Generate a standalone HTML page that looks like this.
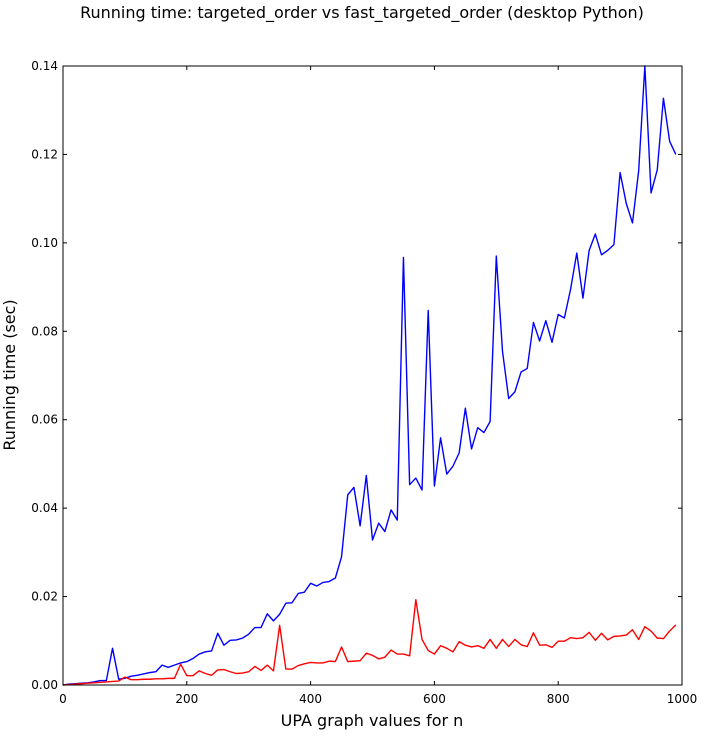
<!DOCTYPE html>
<html><head><meta charset="utf-8"><style>
body{margin:0;background:#fff;font-family:"Liberation Sans","DejaVu Sans",sans-serif}
svg text{font-family:"DejaVu Sans","Liberation Sans",sans-serif}
</style></head><body>
<svg id="chart" width="704" height="736" xmlns="http://www.w3.org/2000/svg">
<text x="362" y="18" text-anchor="middle" font-size="16">Running time: targeted_order vs fast_targeted_order (desktop Python)</text>
<text x="372" y="726" text-anchor="middle" font-size="16">UPA graph values for n</text>
<text transform="translate(15,375) rotate(-90)" text-anchor="middle" font-size="16">Running time (sec)</text>
<g id="plot"></g>
<rect x="63" y="66" width="619" height="619" fill="none" stroke="#000" stroke-width="1"/>
</svg>
<script>
const nValues=[];for(let i=0;i<100;i++)nValues.push(i*10);
const slowTimes=[0,0.0002,0.0003,0.0004,0.0005,0.0007,0.001,0.001,0.0083,0.0013,0.0015,0.002,0.0022,0.0025,0.0028,0.003,0.0045,0.004,0.0045,0.005,0.0053,0.006,0.007,0.0075,0.0077,0.0117,0.009,0.0101,0.0102,0.0106,0.0115,0.013,0.013,0.0161,0.0145,0.016,0.0185,0.0186,0.0207,0.021,0.023,0.0224,0.0232,0.0234,0.0242,0.029,0.043,0.0447,0.036,0.0474,0.0328,0.0366,0.0347,0.0396,0.0373,0.0967,0.0453,0.0468,0.0441,0.0847,0.045,0.0559,0.0477,0.0495,0.0525,0.0626,0.0534,0.0582,0.0571,0.0596,0.097,0.0755,0.0648,0.0663,0.0708,0.0716,0.082,0.0778,0.0824,0.0775,0.0838,0.083,0.0895,0.0977,0.0875,0.0983,0.102,0.0973,0.0983,0.0996,0.1159,0.1089,0.1045,0.1163,0.14,0.1113,0.1165,0.1327,0.123,0.12];
const fastTimes=[0,0.0001,0.0002,0.0003,0.0004,0.0005,0.0006,0.0007,0.0008,0.0009,0.0018,0.0012,0.0012,0.0013,0.0013,0.0014,0.0014,0.0015,0.0015,0.0047,0.0021,0.0021,0.0032,0.0026,0.0022,0.0034,0.0035,0.003,0.0026,0.0027,0.003,0.0042,0.0033,0.0045,0.0032,0.0135,0.0036,0.0036,0.0044,0.0048,0.0051,0.005,0.005,0.0054,0.0053,0.0086,0.0053,0.0054,0.0055,0.0072,0.0067,0.0059,0.0063,0.0079,0.007,0.007,0.0066,0.0193,0.0103,0.0078,0.007,0.0089,0.0083,0.0075,0.0098,0.009,0.0086,0.0089,0.0083,0.0103,0.0083,0.0103,0.0087,0.0103,0.0091,0.0087,0.0118,0.009,0.0091,0.0085,0.0099,0.0099,0.0107,0.0105,0.0107,0.0119,0.0101,0.0117,0.0102,0.011,0.0111,0.0113,0.0125,0.0103,0.0132,0.0122,0.0106,0.0105,0.0122,0.0136];
const xTicks=[0,200,400,600,800,1000];
const yTicks=[0,0.02,0.04,0.06,0.08,0.10,0.12,0.14];
const yTickLabels=["0.00","0.02","0.04","0.06","0.08","0.10","0.12","0.14"];
const X0=63,X1=682,Y0=685,Y1=66;
const sx=v=>X0+(v/1000)*(X1-X0);
const sy=v=>Y0-(v/0.14)*(Y0-Y1);
const NS="http://www.w3.org/2000/svg";
const g=document.getElementById('plot');
function mk(t,a){const e=document.createElementNS(NS,t);for(const k in a)e.setAttribute(k,a[k]);g.appendChild(e);return e;}
xTicks.forEach(v=>{const x=sx(v);
 const t1=mk('line',{x1:x,x2:x,y1:Y0,y2:Y0-4,stroke:'#000'});
 
 
 const t2=mk('line',{x1:x,x2:x,y1:Y1,y2:Y1+4,stroke:'#000'});
 
 
 const l=mk('text',{x:x,y:Y0+18,'text-anchor':'middle','font-size':'12'});l.textContent=v;
 
 
});
yTicks.forEach((v,i)=>{const y=sy(v);
 const t1=mk('line',{x1:X0,x2:X0+4,y1:y,y2:y,stroke:'#000'});
 
 
 const t2=mk('line',{x1:X1,x2:X1-4,y1:y,y2:y,stroke:'#000'});
 
 
 const l=mk('text',{x:X0-5,y:y+4,'text-anchor':'end','font-size':'12'});l.textContent=yTickLabels[i];
 
 
});
function series(vals,color,name){
 const p=mk('polyline',{points:vals.map((v,i)=>sx(nValues[i])+','+sy(v)).join(' '),fill:'none',stroke:color,'stroke-width':'1.4','stroke-linejoin':'round'});
 
 
}
series(slowTimes,'#0000ff','targeted-order-line');
series(fastTimes,'#ff0000','fast-targeted-order-line');
</script>
</body></html>
